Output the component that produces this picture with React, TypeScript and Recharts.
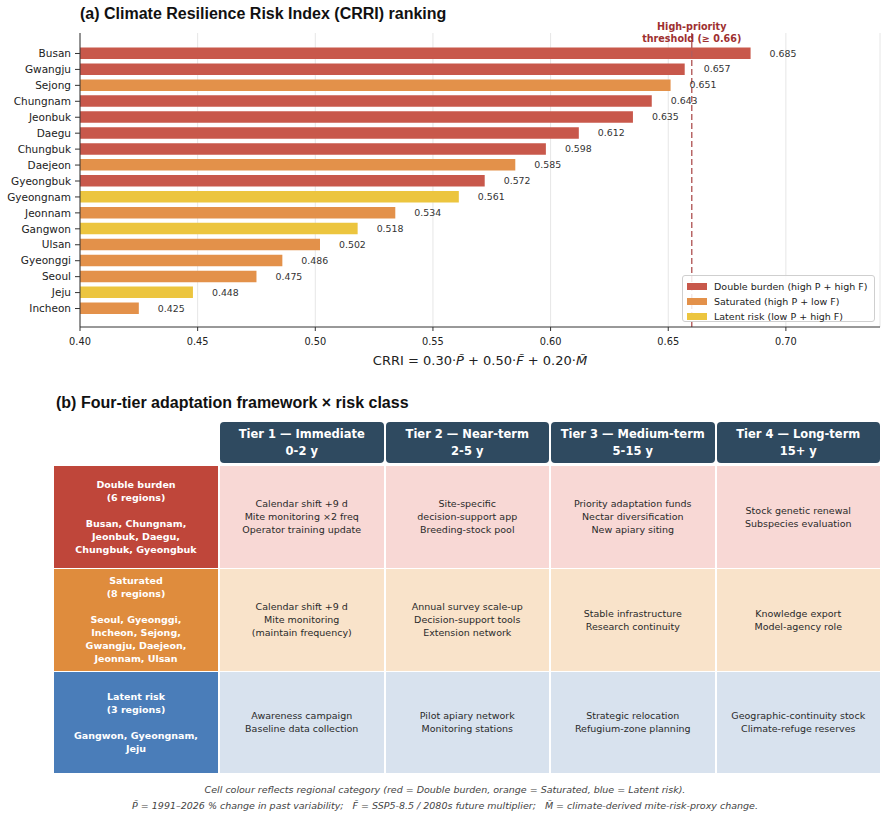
import React from 'react';
import { BarChart, Bar, XAxis, YAxis, CartesianGrid, ReferenceLine, Cell, LabelList } from 'recharts';

// ---- panel (a): CRRI ranking ----
const regions = [
  'Busan', 'Gwangju', 'Sejong', 'Chungnam', 'Jeonbuk', 'Daegu', 'Chungbuk', 'Daejeon', 'Gyeongbuk',
  'Gyeongnam', 'Jeonnam', 'Gangwon', 'Ulsan', 'Gyeonggi', 'Seoul', 'Jeju', 'Incheon',
];
const crriValues = [
  0.685, 0.657, 0.651, 0.643, 0.635, 0.612, 0.598, 0.585, 0.572,
  0.561, 0.534, 0.518, 0.502, 0.486, 0.475, 0.448, 0.425,
];
// D = double burden, S = saturated, L = latent risk
const regionClass = ['D', 'D', 'S', 'D', 'D', 'D', 'D', 'S', 'D', 'L', 'S', 'L', 'S', 'S', 'S', 'L', 'S'];

const classKeys = ['D', 'S', 'L'];
const classLabels = ['Double burden (high P + high F)', 'Saturated (high P + low F)', 'Latent risk (low P + high F)'];
const classColors: Record<string, string> = { D: '#c8584b', S: '#e3914a', L: '#ecc53f' };

const xTicks = [0.4, 0.45, 0.5, 0.55, 0.6, 0.65, 0.7];
const threshold = 0.66;

// ---- panel (b): adaptation framework ----
const tierNames = ['Tier 1 \u2014 Immediate', 'Tier 2 \u2014 Near-term', 'Tier 3 \u2014 Medium-term', 'Tier 4 \u2014 Long-term'];
const tierSpans = ['0-2 y', '2-5 y', '5-15 y', '15+ y'];

const riskTitles = ['Double burden', 'Saturated', 'Latent risk'];
const riskCounts = ['(6 regions)', '(8 regions)', '(3 regions)'];
const riskMembers = [
  ['Busan, Chungnam,', 'Jeonbuk, Daegu,', 'Chungbuk, Gyeongbuk'],
  ['Seoul, Gyeonggi,', 'Incheon, Sejong,', 'Gwangju, Daejeon,', 'Jeonnam, Ulsan'],
  ['Gangwon, Gyeongnam,', 'Jeju'],
];
const riskActions = [
  [
    ['Calendar shift +9 d', 'Mite monitoring \u00d72 freq', 'Operator training update'],
    ['Site-specific', 'decision-support app', 'Breeding-stock pool'],
    ['Priority adaptation funds', 'Nectar diversification', 'New apiary siting'],
    ['Stock genetic renewal', 'Subspecies evaluation'],
  ],
  [
    ['Calendar shift +9 d', 'Mite monitoring', '(maintain frequency)'],
    ['Annual survey scale-up', 'Decision-support tools', 'Extension network'],
    ['Stable infrastructure', 'Research continuity'],
    ['Knowledge export', 'Model-agency role'],
  ],
  [
    ['Awareness campaign', 'Baseline data collection'],
    ['Pilot apiary network', 'Monitoring stations'],
    ['Strategic relocation', 'Refugium-zone planning'],
    ['Geographic-continuity stock', 'Climate-refuge reserves'],
  ],
];
const riskHeadColors = ['#bf463a', '#df8c3d', '#4a7db9'];
const riskBodyColors = ['#f8d8d5', '#f9e3ca', '#d8e2ee'];

const DEJAVU = '"DejaVu Sans", Verdana, sans-serif';
const ARIAL = '"Liberation Sans", Arial, Helvetica, sans-serif';

const chartData = regions.map((r, i) => ({ region: r, crri: crriValues[i], cls: regionClass[i] }));

const ValueLabel = (props: any) => {
  const { x, y, width, height, value } = props;
  return (
    <text x={x + width + 19} y={y + height / 2} dy="0.35em" fontSize={9.4} fill="#333" fontFamily={DEJAVU}>
      {Number(value).toFixed(3)}
    </text>
  );
};

const ThresholdLabel = (props: any) => {
  const vb = props.viewBox || {};
  return (
    <g fontFamily={DEJAVU} fontWeight="bold" fontSize={9.6} fill="#9e3030" textAnchor="middle">
      <text x={vb.x} y={30}>High-priority</text>
      <text x={vb.x} y={41.5}>threshold (≥ 0.66)</text>
    </g>
  );
};

const CrriAxisLabel = (props: any) => {
  const vb = props.viewBox || {};
  const cx = vb.x + vb.width / 2;
  return (
    <text x={cx} y={vb.y + 38} textAnchor="middle" fontSize={13} fill="#222" fontFamily={DEJAVU}>
      CRRI = 0.30·<tspan fontStyle="italic">{'P\u0303'}</tspan> + 0.50·<tspan fontStyle="italic">{'F\u0303'}</tspan> + 0.20·<tspan fontStyle="italic">{'M\u0303'}</tspan>
    </text>
  );
};

const RankingLegend = () => (
  <div
    style={{
      position: 'absolute', left: 682, top: 275, width: 193, height: 47, boxSizing: 'border-box',
      border: '1px solid #cfcfcf', borderRadius: 3, background: 'rgba(255,255,255,0.85)',
      padding: '3px 0 0 4px', fontFamily: DEJAVU, fontSize: 9.5, color: '#222',
    }}
  >
    {classKeys.map((k, i) => (
      <div key={k} style={{ display: 'flex', alignItems: 'center', height: 15 }}>
        <span style={{ width: 20, height: 7.5, background: classColors[k], marginRight: 7, display: 'inline-block' }} />
        <span>{classLabels[i]}</span>
      </div>
    ))}
  </div>
);

const COL_LEFT = [220, 385.5, 551, 716.5];
const COL_W = 163.5;
const ROW_TOP = [466, 568.8, 671.6];
const ROW_H = 101.8;

const Framework = () => (
  <>
    {tierNames.map((t, i) => (
      <div
        key={t}
        style={{
          position: 'absolute', left: COL_LEFT[i], top: 422, width: COL_W, height: 41, background: '#2f4a60',
          borderRadius: 4, color: '#fff', fontFamily: DEJAVU, fontWeight: 'bold', fontSize: 11.5, lineHeight: '17px',
          display: 'flex', flexDirection: 'column', alignItems: 'center', justifyContent: 'center',
        }}
      >
        <div>{t}</div>
        <div>{tierSpans[i]}</div>
      </div>
    ))}
    {riskTitles.map((title, r) => (
      <React.Fragment key={title}>
        <div
          style={{
            position: 'absolute', left: 54, top: ROW_TOP[r], width: 164, height: ROW_H, background: riskHeadColors[r],
            color: '#fff', fontFamily: DEJAVU, fontWeight: 'bold', fontSize: 9.5, lineHeight: '13px', textAlign: 'center',
            display: 'flex', flexDirection: 'column', alignItems: 'center', justifyContent: 'center',
          }}
        >
          <div>{title}</div>
          <div>{riskCounts[r]}</div>
          <div style={{ height: 13 }} />
          {riskMembers[r].map((m) => (
            <div key={m}>{m}</div>
          ))}
        </div>
        {riskActions[r].map((lines, c) => (
          <div
            key={c}
            style={{
              position: 'absolute', left: COL_LEFT[c], top: ROW_TOP[r], width: COL_W, height: ROW_H,
              background: riskBodyColors[r], color: '#2a2a2a', fontFamily: DEJAVU, fontSize: 9.5, lineHeight: '13px',
              textAlign: 'center', display: 'flex', flexDirection: 'column', alignItems: 'center', justifyContent: 'center',
            }}
          >
            {lines.map((l) => (
              <div key={l}>{l}</div>
            ))}
          </div>
        ))}
      </React.Fragment>
    ))}
    <div
      style={{
        position: 'absolute', left: 0, width: 890, top: 782, textAlign: 'center', fontFamily: DEJAVU,
        fontStyle: 'italic', fontSize: 9.5, lineHeight: '16px', color: '#444',
      }}
    >
      <div>Cell colour reflects regional category (red = Double burden, orange = Saturated, blue = Latent risk).</div>
      <div style={{ whiteSpace: 'pre' }}>
        {'P\u0303 = 1991\u20132026 % change in past variability;   F\u0303 = SSP5-8.5 / 2080s future multiplier;   M\u0303 = climate-derived mite-risk-proxy change.'}
      </div>
    </div>
  </>
);

export default function App() {
  return (
    <div style={{ position: 'absolute', left: 0, top: 0, width: 890, height: 819, background: '#fff', overflow: 'hidden' }}>
      <div style={{ position: 'absolute', left: 80, top: 6, fontFamily: ARIAL, fontWeight: 'bold', fontSize: 16, lineHeight: '16px', color: '#111', whiteSpace: 'nowrap' }}>
        (a) Climate Resilience Risk Index (CRRI) ranking
      </div>

      <div style={{ position: 'absolute', left: 0, top: 0 }}>
        <BarChart
          width={890}
          height={370}
          data={chartData}
          layout="vertical"
          margin={{ top: 33, right: 10, bottom: 0, left: 0 }}
        >
          <CartesianGrid horizontal={false} stroke="#e6e6e6" />
          <XAxis
            type="number"
            dataKey="crri"
            domain={[0.4, 0.74]}
            ticks={xTicks}
            tickFormatter={(v: number) => v.toFixed(2)}
            height={43}
            tickSize={4}
            tickMargin={7}
            tick={{ fontSize: 9.8, fill: '#222', fontFamily: DEJAVU }}
            stroke="#333"
            label={<CrriAxisLabel />}
          />
          <XAxis xAxisId="top" orientation="top" type="number" domain={[0.4, 0.74]} height={0} tick={false} tickLine={false} stroke="#333" />
          <YAxis
            type="category"
            dataKey="region"
            width={80}
            tickSize={5}
            tickMargin={4}
            interval={0}
            padding={{ top: 12.5, bottom: 10.5 }}
            tick={{ fontSize: 10.5, fill: '#222', fontFamily: DEJAVU }}
            stroke="#333"
          />
          <YAxis yAxisId="right" orientation="right" type="category" dataKey="region" width={0} tick={false} tickLine={false} stroke="#333" />
          <Bar dataKey="crri" barSize={11.5} isAnimationActive={false}>
            {chartData.map((d) => (
              <Cell key={d.region} fill={classColors[d.cls]} />
            ))}
            <LabelList dataKey="crri" content={ValueLabel} />
          </Bar>
          <ReferenceLine x={threshold} stroke="#b35c5c" strokeDasharray="6 3" strokeWidth={1.4} label={<ThresholdLabel />} />
        </BarChart>
      </div>

      <RankingLegend />

      <div style={{ position: 'absolute', left: 56, top: 395, fontFamily: ARIAL, fontWeight: 'bold', fontSize: 16, lineHeight: '16px', color: '#111', whiteSpace: 'nowrap' }}>
        (b) Four-tier adaptation framework × risk class
      </div>

      <Framework />
    </div>
  );
}
